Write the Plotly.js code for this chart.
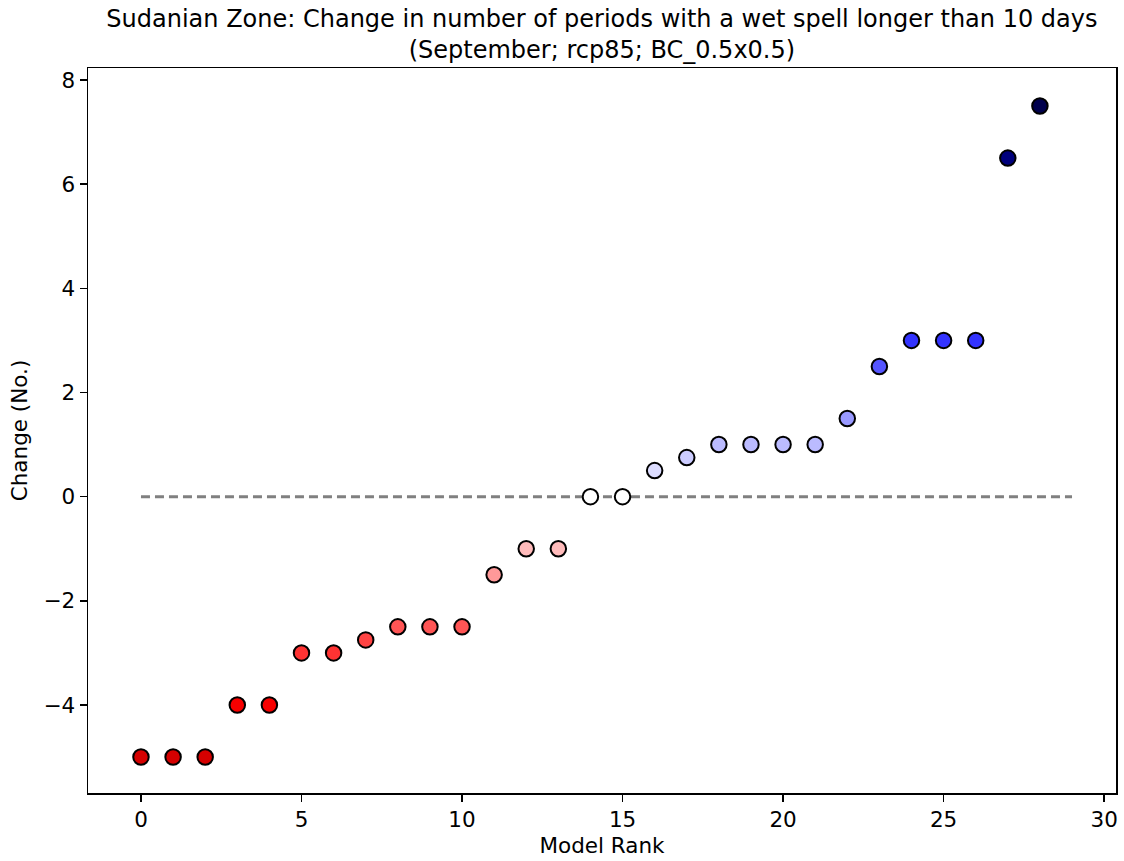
<!DOCTYPE html>
<html>
<head>
<meta charset="utf-8">
<script src="https://cdn.plot.ly/plotly-3.0.1.min.js"></script>
<style>html,body{margin:0;padding:0;background:#fff;}</style>
</head>
<body>
<div id="chart" style="width:1124px;height:861px;"></div>
<script>
const ranks = [0,1,2,3,4,5,6,7,8,9,10,11,12,13,14,15,16,17,18,19,20,21,22,23,24,25,26,27,28];
const changes = [-5,-5,-5,-4,-4,-3,-3,-2.75,-2.5,-2.5,-2.5,-1.5,-1,-1,0,0,0.5,0.75,1,1,1,1,1.5,2.5,3,3,3,6.5,7.5];
const zeroLineX = [0, 29];
const zeroLineY = [0, 0];
const xTicks = [0,5,10,15,20,25,30];
const yTicks = [-4,-2,0,2,4,6,8];
const titleText = "Sudanian Zone: Change in number of periods with a wet spell longer than 10 days<br>(September; rcp85; BC_0.5x0.5)";

const seismicR = [
  [0, "rgb(128,0,0)"],
  [0.25, "rgb(255,0,0)"],
  [0.5, "rgb(255,255,255)"],
  [0.75, "rgb(0,0,255)"],
  [1, "rgb(0,0,77)"]
];
const lim = Math.max(...changes.map(Math.abs));

const traces = [
  {
    x: zeroLineX, y: zeroLineY, mode: "lines", type: "scatter",
    line: {color: "#808080", width: 3, dash: "9px,5px"},
    hoverinfo: "skip", showlegend: false
  },
  {
    x: ranks, y: changes, mode: "markers", type: "scatter",
    marker: {
      size: 15.5, color: changes, colorscale: seismicR, cmin: -lim, cmax: lim,
      showscale: false, line: {color: "#000", width: 2}
    },
    showlegend: false
  }
];

const font = {family: "DejaVu Sans, sans-serif", color: "#000"};
const layout = {
  width: 1124, height: 861,
  margin: {l: 88, r: 8, t: 68, b: 68},
  paper_bgcolor: "#fff", plot_bgcolor: "#fff",
  showlegend: false,
  title: {text: titleText, font: Object.assign({size: 24}, font), x: 0.5355, xanchor: "center", y: 0.969, yanchor: "middle"},
  xaxis: {
    range: [-1.65, 30.37], showgrid: false, zeroline: false,
    tickvals: xTicks, ticks: "outside", ticklen: 7, tickwidth: 1.5, tickcolor: "#000",
    showline: true, linecolor: "#000", linewidth: 1.5, mirror: true,
    tickfont: Object.assign({size: 21.5}, font),
    title: {text: "Model Rank", font: Object.assign({size: 21.5}, font), standoff: 6}
  },
  yaxis: {
    range: [-5.69, 8.23], showgrid: false, zeroline: false,
    tickvals: yTicks, ticks: "outside", ticklen: 7, tickwidth: 1.5, tickcolor: "#000",
    showline: true, linecolor: "#000", linewidth: 1.5, mirror: true,
    tickfont: Object.assign({size: 21.5}, font),
    title: {text: "Change (No.)", font: Object.assign({size: 21.5}, font), standoff: 10}
  }
};
Plotly.newPlot("chart", traces, layout, {displayModeBar: false, staticPlot: true});
</script>
</body>
</html>
